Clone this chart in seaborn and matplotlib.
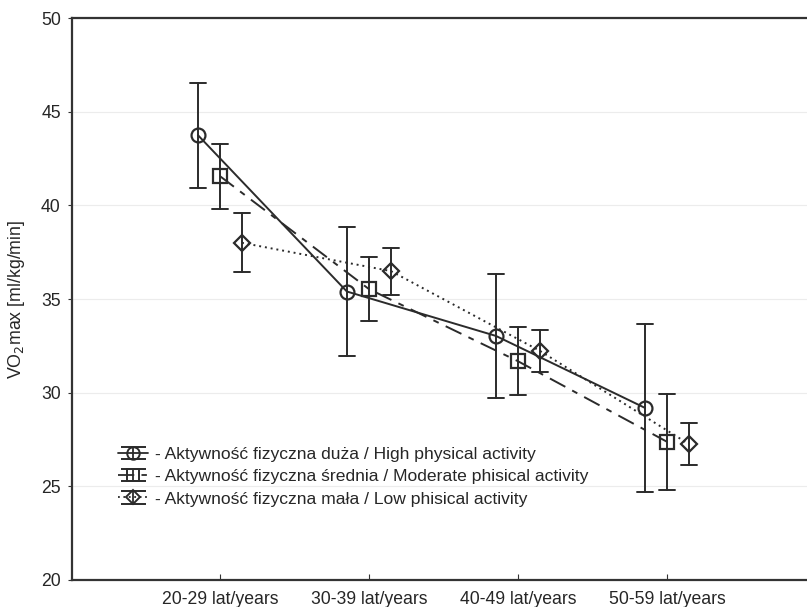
import numpy as np
import pandas as pd
import matplotlib
matplotlib.use("Agg")
import matplotlib.pyplot as plt
from matplotlib.legend_handler import HandlerErrorbar
import seaborn as sns


# Data
age_groups = ["20-29 lat/years", "30-39 lat/years", "40-49 lat/years", "50-59 lat/years"]
groups = [
    "- Aktywność fizyczna duża / High physical activity",
    "- Aktywność fizyczna średnia / Moderate phisical activity",
    "- Aktywność fizyczna mała / Low phisical activity",
]
high_mean = [43.75, 35.40, 33.03, 29.19]
high_err = [2.80, 3.45, 3.33, 4.50]
moderate_mean = [41.56, 35.53, 31.68, 27.38]
moderate_err = [1.73, 1.70, 1.83, 2.55]
low_mean = [38.00, 36.49, 32.23, 27.25]
low_err = [1.58, 1.25, 1.12, 1.12]

LINE_COLOR = "#2b2b2b"
DASH_DOT = (0, (9, 4, 3, 4))
DOTTED = (0, (1, 2))


def build_frame() -> pd.DataFrame:
    '''
    Long table with lower / mean / upper rows per point,
    so pointplot can draw mean and min-max whiskers.
    '''
    rows = []
    series = [(high_mean, high_err), (moderate_mean, moderate_err), (low_mean, low_err)]
    for name, (means, errs) in zip(groups, series):
        for age, m, e in zip(age_groups, means, errs):
            for v in (m - e, m, m + e):
                rows.append({"age": age, "group": name, "vo2": v})
    return pd.DataFrame(rows)


df = build_frame()

sns.set_style("whitegrid", {"grid.color": "#ececec", "axes.edgecolor": "#333333"})
plt.rcParams["font.family"] = ["Liberation Sans", "DejaVu Sans"]

fig = plt.figure(figsize=(8.07, 6.07), dpi=100)
ax = fig.add_axes([0.0892, 0.0445, 0.9108, 0.9258])

sns.pointplot(
    data=df, x="age", y="vo2", hue="group", order=age_groups, hue_order=groups,
    estimator="median", errorbar=lambda x: (x.min(), x.max()),
    dodge=0.296, palette=[LINE_COLOR] * 3,
    markers=["o", "s", "D"], linestyles=["-", DASH_DOT, DOTTED],
    capsize=0.11, err_kws={"linewidth": 1.4},
    linewidth=1.4, markersize=10, markerfacecolor="none", markeredgewidth=1.6,
    legend=False, ax=ax,
)

# diamonds a bit smaller than the other markers
for line in ax.lines:
    if line.get_marker() == "D":
        line.set_markersize(8)

ax.set_xlim(-0.993, 3.94)
ax.set_ylim(20, 50)
ax.set_yticks([20, 25, 30, 35, 40, 45, 50])
ax.set_xlabel("")
ax.set_ylabel("VO$_2$max [ml/kg/min]", fontsize=12.8, labelpad=10)
ax.tick_params(axis="both", labelsize=12.7, color="#333333")
ax.tick_params(axis="y", direction="out", length=3, left=True, pad=5)
ax.tick_params(axis="x", direction="in", length=4, bottom=True, pad=8)
ax.spines["right"].set_visible(False)
for s in ["left", "top", "bottom"]:
    ax.spines[s].set_linewidth(1.6)

# legend with errorbar-style handles (nan point so caps get created)
handles = []
for marker, ls, ms in [("o", "-", 9), ("s", DASH_DOT, 9), ("D", DOTTED, 7.5)]:
    h = ax.errorbar([np.nan], [np.nan], yerr=[1.0], color=LINE_COLOR, marker=marker,
                    linestyle=ls, markersize=ms, markerfacecolor="none",
                    markeredgewidth=1.4, capsize=9, capthick=1.3, linewidth=1.3)
    handles.append(h)
ax.legend(handles, groups, loc="lower left", bbox_to_anchor=(0.048, 0.112),
          frameon=False, fontsize=12.6, handlelength=1.7, handletextpad=0.4,
          labelspacing=0.4, borderpad=0.1,
          handler_map={type(handles[0]): HandlerErrorbar(yerr_size=0.36)})

fig.savefig("out.png", dpi=100)
